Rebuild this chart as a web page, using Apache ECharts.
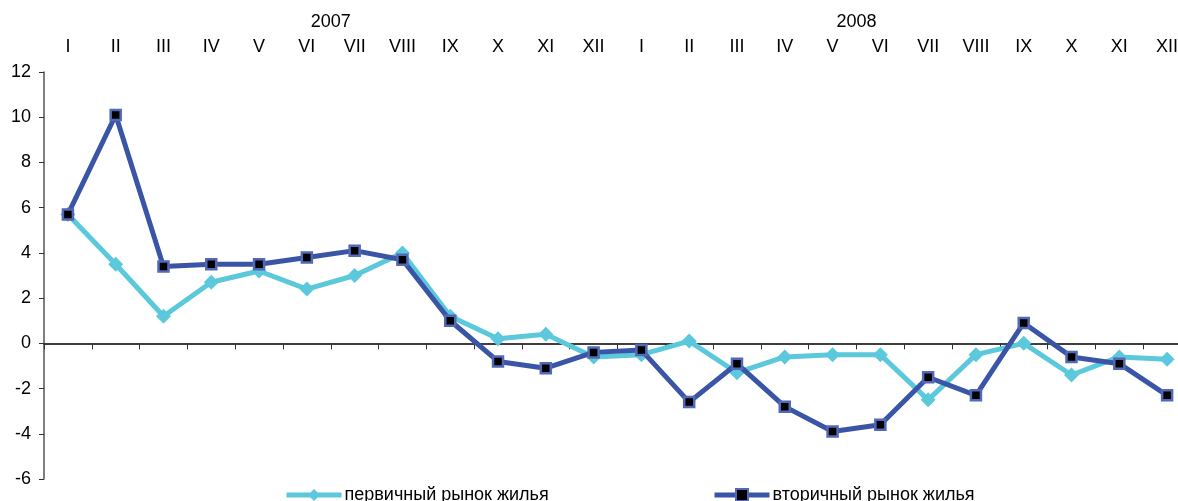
<!DOCTYPE html>
<html>
<head>
<meta charset="utf-8">
<script src="https://cdn.jsdelivr.net/npm/echarts@6/dist/echarts.min.js"></script>
<style>
html,body{margin:0;padding:0;background:#fff;}
#c{width:1178px;height:501px;}
</style>
</head>
<body>
<div id="c"></div>
<script>
const months = ['I','II','III','IV','V','VI','VII','VIII','IX','X','XI','XII','I','II','III','IV','V','VI','VII','VIII','IX','X','XI','XII'];
const years = [{label:'2007', at:6}, {label:'2008', at:17}];
const seriesNames = ['первичный рынок жилья','вторичный рынок жилья'];
const primary = [5.7,3.5,1.2,2.7,3.2,2.4,3.0,4.0,1.2,0.2,0.4,-0.6,-0.5,0.1,-1.3,-0.6,-0.5,-0.5,-2.5,-0.5,0.0,-1.4,-0.6,-0.7];
const secondary = [5.7,10.1,3.4,3.5,3.5,3.8,4.1,3.7,1.0,-0.8,-1.1,-0.4,-0.3,-2.6,-0.9,-2.8,-3.9,-3.6,-1.5,-2.3,0.9,-0.6,-0.9,-2.3];
const yMin = -6, yMax = 12, yStep = 2;

const font = 'Liberation Sans, Arial, sans-serif';
const fs = 18;
const cyan = '#5BC8DC';
const navy = '#3A55A6';
const chart = echarts.init(document.getElementById('c'), null, {renderer:'canvas'});
chart.setOption({
  animation:false,
  backgroundColor:'#fff',
  textStyle:{fontFamily:font},
  grid:{left:44, top:72, width:1147, height:407, outerBoundsMode:'none', containLabel:false},
  legend:[
    {data:[seriesNames[0]], left:284, top:486, padding:0, itemWidth:55, itemHeight:15, itemGap:4,
     lineStyle:{width:5},
     textStyle:{fontSize:fs, color:'#000', fontFamily:font, padding:[0,0,0,-2]}},
    {data:[seriesNames[1]], left:712, top:486, padding:0, itemWidth:55, itemHeight:15, itemGap:4,
     lineStyle:{width:5},
     textStyle:{fontSize:fs, color:'#000', fontFamily:font, padding:[0,0,0,-2]}}
  ],
  xAxis:[
    {type:'category', data:months, position:'bottom', boundaryGap:true,
     axisLine:{onZero:true, lineStyle:{color:'#000', width:1.5}},
     axisTick:{show:true, interval:0, length:6, lineStyle:{color:'#333'}},
     axisLabel:{show:false}, splitLine:{show:false}},
    {type:'category', data:months, position:'top', boundaryGap:true,
     axisLine:{show:false}, axisTick:{show:false},
     axisLabel:{interval:0, margin:16, fontSize:fs, color:'#000', fontFamily:font}},
    {type:'value', position:'top', offset:22, min:0, max:months.length, interval:1,
     axisLine:{show:false}, axisTick:{show:false}, splitLine:{show:false},
     axisLabel:{margin:19, fontSize:fs, color:'#000', fontFamily:font, showMinLabel:true, showMaxLabel:true,
       formatter:function(v){ const y = years.find(o=>o.at===v); return y ? y.label : ''; }}}
  ],
  yAxis:{type:'value', min:yMin, max:yMax, interval:yStep,
    axisLine:{show:true, onZero:false, lineStyle:{color:'#555', width:1.5}},
    axisTick:{show:true, length:5, lineStyle:{color:'#333'}},
    splitLine:{show:false},
    axisLabel:{margin:13, fontSize:fs, color:'#000', fontFamily:font}},
  series:[
    {name:seriesNames[0], type:'line', data:primary, xAxisIndex:0,
     lineStyle:{color:cyan, width:5}, itemStyle:{color:cyan},
     symbol:'diamond', symbolSize:15, showAllSymbol:true, z:2},
    {name:seriesNames[1], type:'line', data:secondary, xAxisIndex:0,
     lineStyle:{color:navy, width:5}, itemStyle:{color:'#000', borderColor:'#5268B8', borderWidth:2.5},
     symbol:'rect', symbolSize:10, showAllSymbol:true, z:3}
  ]
});
</script>
</body>
</html>
